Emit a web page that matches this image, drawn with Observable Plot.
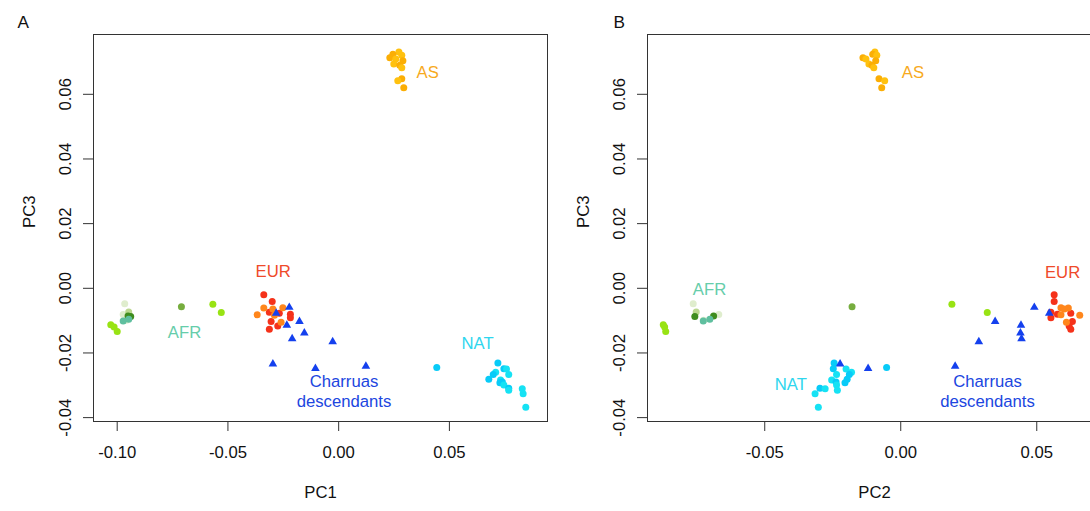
<!DOCTYPE html>
<html>
<head>
<meta charset="utf-8">
<script src="https://cdn.jsdelivr.net/npm/d3@7"></script>
<script src="https://cdn.jsdelivr.net/npm/@observablehq/plot@0.6"></script>
<style>
  html, body { margin: 0; padding: 0; background: #fff; }
  #wrap { position: relative; width: 1090px; height: 511px; overflow: hidden; background: #fff; }
  #wrap > svg { position: absolute; top: 0; }
</style>
</head>
<body>
<div id="wrap"></div>
<script>
// ---- data: each row = [PC1, PC2, PC3, subgroup] ----
const AS = [
  [0.0272, -0.0095, 0.0731, "AS1"],
  [0.0245, -0.0103, 0.0724, "AS2"],
  [0.0285, -0.0088, 0.0721, "AS1"],
  [0.0231, -0.0139, 0.0713, "AS2"],
  [0.0258, -0.0128, 0.0709, "AS1"],
  [0.0290, -0.0092, 0.0704, "AS2"],
  [0.0249, -0.0117, 0.0694, "AS1"],
  [0.0276, -0.0106, 0.0690, "AS2"],
  [0.0285, -0.0099, 0.0682, "AS1"],
  [0.0285, -0.0080, 0.0648, "AS2"],
  [0.0267, -0.0059, 0.0642, "AS1"],
  [0.0294, -0.0070, 0.0620, "AS2"]
];
const EUR = [
  [-0.0338, 0.0564, -0.0020, "EUR1"],
  [-0.0300, 0.0564, -0.0041, "EUR1"],
  [-0.0313, 0.0552, -0.0074, "EUR1"],
  [-0.0268, 0.0625, -0.0077, "EUR1"],
  [-0.0218, 0.0576, -0.0080, "EUR1"],
  [-0.0218, 0.0552, -0.0091, "EUR1"],
  [-0.0305, 0.0631, -0.0103, "EUR1"],
  [-0.0275, 0.0619, -0.0117, "EUR1"],
  [-0.0313, 0.0625, -0.0127, "EUR1"],
  [-0.0252, 0.0589, -0.0060, "EUR2"],
  [-0.0338, 0.0616, -0.0061, "EUR2"],
  [-0.0297, 0.0601, -0.0064, "EUR2"],
  [-0.0368, 0.0589, -0.0082, "EUR2"],
  [-0.0290, 0.0658, -0.0083, "EUR2"],
  [-0.0260, 0.0609, -0.0105, "EUR2"]
];
const AFR = [
  [-0.0966, -0.0763, -0.0048, "AFR4"],
  [-0.0973, -0.0669, -0.0081, "AFR4"],
  [-0.0958, -0.0725, -0.0099, "AFR4"],
  [-0.0948, -0.0752, -0.0073, "AFR5"],
  [-0.1029, -0.0873, -0.0113, "AFR1"],
  [-0.1014, -0.0868, -0.0120, "AFR1"],
  [-0.1000, -0.0864, -0.0134, "AFR1"],
  [-0.0568,  0.0188, -0.0049, "AFR1"],
  [-0.0530,  0.0318, -0.0075, "AFR1"],
  [-0.0710, -0.0179, -0.0057, "AFR2"],
  [-0.0939, -0.0757, -0.0087, "AFR3"],
  [-0.0951, -0.0688, -0.0086, "AFR3"],
  [-0.0973, -0.0726, -0.0101, "AFR6"],
  [-0.0948, -0.0702, -0.0096, "AFR6"]
];
const NAT = [
  [0.0719, -0.0245, -0.0231, "NAT1"],
  [0.0443, -0.0052, -0.0245, "NAT1"],
  [0.0746, -0.0248, -0.0249, "NAT1"],
  [0.0758, -0.0201, -0.0250, "NAT2"],
  [0.0709, -0.0181, -0.0260, "NAT2"],
  [0.0698, -0.0189, -0.0267, "NAT1"],
  [0.0768, -0.0236, -0.0267, "NAT2"],
  [0.0678, -0.0197, -0.0281, "NAT1"],
  [0.0731, -0.0254, -0.0284, "NAT2"],
  [0.0739, -0.0238, -0.0290, "NAT1"],
  [0.0728, -0.0205, -0.0292, "NAT1"],
  [0.0746, -0.0236, -0.0299, "NAT2"],
  [0.0768, -0.0297, -0.0309, "NAT1"],
  [0.0829, -0.0278, -0.0311, "NAT2"],
  [0.0768, -0.0233, -0.0315, "NAT2"],
  [0.0833, -0.0315, -0.0326, "NAT2"],
  [0.0845, -0.0303, -0.0368, "NAT2"]
];
const CHA = [
  [-0.0223,  0.0491, -0.0059, "CHA"],
  [-0.0282,  0.0546, -0.0077, "CHA"],
  [-0.0177,  0.0347, -0.0103, "CHA"],
  [-0.0234,  0.0442, -0.0114, "CHA"],
  [-0.0155,  0.0440, -0.0138, "CHA"],
  [-0.0210,  0.0444, -0.0156, "CHA"],
  [-0.0027,  0.0287, -0.0165, "CHA"],
  [-0.0297, -0.0223, -0.0234, "CHA"],
  [-0.0105, -0.0120, -0.0248, "CHA"],
  [ 0.0123,  0.0200, -0.0241, "CHA"]
];
// group labels: [text, group, x, y]
const labelsA = [
  ["AS", "AS", 0.0402, 0.0667],
  ["EUR", "EUR", -0.0296, 0.0050],
  ["AFR", "AFR", -0.0696, -0.0138],
  ["NAT", "NAT", 0.0627, -0.0170],
  ["Charruas", "CHA", 0.0024, -0.0290],
  ["descendants", "CHA", 0.0024, -0.0352]
];
const labelsB = [
  ["AS", "AS", 0.0045, 0.0667],
  ["EUR", "EUR", 0.0595, 0.0047],
  ["AFR", "AFR", -0.0703, -0.0003],
  ["NAT", "NAT", -0.0404, -0.0299],
  ["Charruas", "CHA", 0.0319, -0.0290],
  ["descendants", "CHA", 0.0319, -0.0352]
];
const xTicksA = [-0.10, -0.05, 0.00, 0.05];
const xTicksB = [-0.05, 0.00, 0.05];
const yTicks = [-0.04, -0.02, 0.00, 0.02, 0.04, 0.06];

// ---- styles ----
const subDomain = ["AS1","AS2","EUR1","EUR2","AFR1","AFR2","AFR3","AFR4","AFR5","AFR6","NAT1","NAT2","CHA"];
const subRange  = ["#ffc10f","#fbae05","#f5321a","#ff861c","#98e314","#76ad3e","#3f8d1e","#dfedcd","#bad78e","#5fbf9f","#08cbf8","#16e2f4","#1440ee"];
const labelColor = {AS: "#f7aa1e", EUR: "#ef4a2a", AFR: "#66cdaa", NAT: "#2ed6ee", CHA: "#2046e0"};
const FONT = "'Liberation Sans', Arial, Helvetica, sans-serif";
const FS = 16.7;

const circles = [...AS, ...EUR, ...AFR, ...NAT];

function panel(xi, xDomain, xTicks, labels, xTitle, letter, letterDx) {
  return Plot.plot({
    width: 554, height: 511,
    marginLeft: 93, marginRight: 7, marginTop: 34, marginBottom: 90,
    x: {domain: xDomain},
    y: {domain: [-0.0412, 0.0785]},
    color: {domain: subDomain, range: subRange},
    style: {fontFamily: FONT, fontSize: FS + "px", background: "transparent", color: "#111", overflow: "visible"},
    marks: [
      Plot.frame({stroke: "#333", strokeWidth: 1}),
      Plot.axisX({ticks: xTicks, tickSize: 10, tickPadding: 15, tickFormat: d => d.toFixed(2), label: null, fontSize: FS, stroke: "#333", fill: "#111"}),
      Plot.axisY({ticks: yTicks, tickSize: 10, tickFormat: () => "", label: null, stroke: "#333"}),
      Plot.text(yTicks, {y: d => d, text: d => d.toFixed(2), frameAnchor: "left", dx: -28, rotate: -90, textAnchor: "middle", lineAnchor: "middle", fontSize: FS, fill: "#111"}),
      Plot.dot(circles, {x: d => d[xi], y: d => d[2], fill: d => d[3], r: 3.5}),
      Plot.dot(CHA, {x: d => d[xi], y: d => d[2], fill: d => d[3], symbol: "triangle", r: 3.2}),
      Plot.text(labels, {x: d => d[2], y: d => d[3], text: d => d[0], fill: d => labelColor[d[1]], fontSize: FS, textAnchor: "middle", lineAnchor: "middle"}),
      Plot.text([xTitle], {text: d => d, frameAnchor: "bottom", dy: 76, fontSize: FS, fill: "#111"}),
      Plot.text(["PC3"], {text: d => d, frameAnchor: "left", dx: -64, rotate: -90, fontSize: FS, fill: "#111"}),
      Plot.text([letter], {text: d => d, frameAnchor: "top-left", dx: letterDx, dy: -19, fontSize: FS + 0.5, fill: "#111"})
    ]
  });
}

const wrap = document.getElementById("wrap");
const a = panel(0, [-0.1107, 0.0943], xTicksA, labelsA, "PC1", "A", -76);
a.style.left = "0px";
wrap.appendChild(a);
const b = panel(1, [-0.0931, 0.0738], xTicksB, labelsB, "PC2", "B", -34);
b.style.left = "554px";
wrap.appendChild(b);
</script>
</body>
</html>
